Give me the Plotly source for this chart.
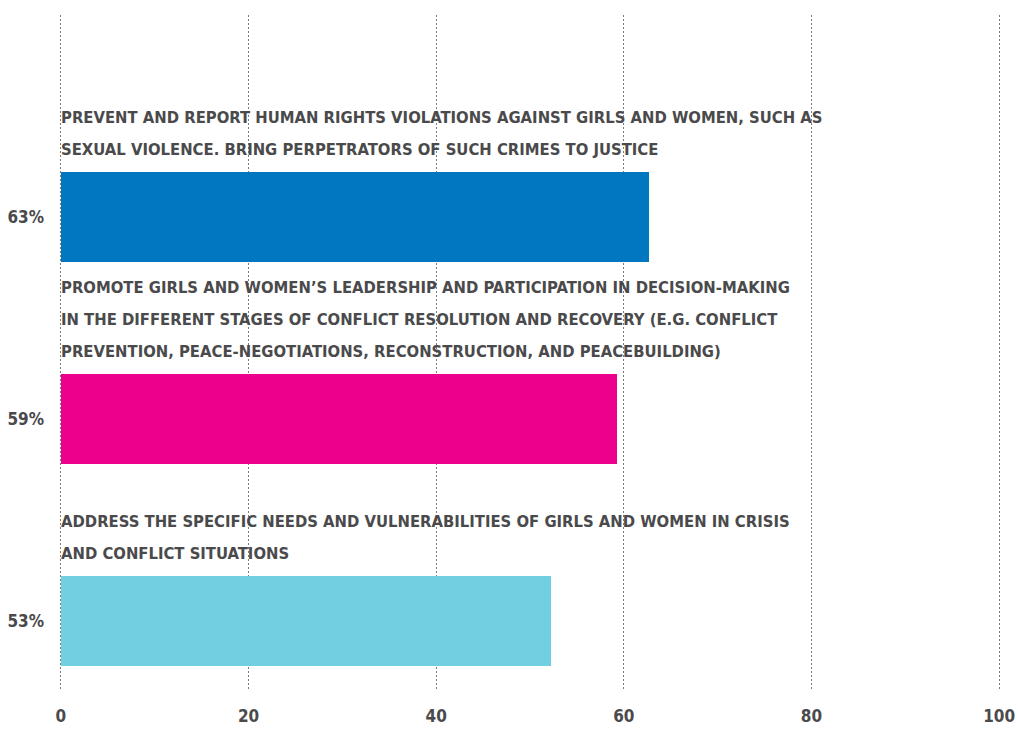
import plotly.graph_objects as go

label_lines = [
    ["PREVENT AND REPORT HUMAN RIGHTS VIOLATIONS AGAINST GIRLS AND WOMEN, SUCH AS",
     "SEXUAL VIOLENCE. BRING PERPETRATORS OF SUCH CRIMES TO JUSTICE"],
    ["PROMOTE GIRLS AND WOMEN’S LEADERSHIP AND PARTICIPATION IN DECISION-MAKING",
     "IN THE DIFFERENT STAGES OF CONFLICT RESOLUTION AND RECOVERY (E.G. CONFLICT",
     "PREVENTION, PEACE-NEGOTIATIONS, RECONSTRUCTION, AND PEACEBUILDING)"],
    ["ADDRESS THE SPECIFIC NEEDS AND VULNERABILITIES OF GIRLS AND WOMEN IN CRISIS",
     "AND CONFLICT SITUATIONS"],
]
values = [62.7, 59.3, 52.2]
pct_labels = ["63%", "59%", "53%"]
colors = ["#0077c0", "#ec008c", "#72cfe2"]
x_ticks = [0, 20, 40, 60, 80, 100]

FONT = "DejaVu Sans Condensed, Liberation Sans Narrow, Arial Narrow, sans-serif"
TXT = "#4a4a4c"
BAR_W = 0.445
LINE_H = 32
pos = list(range(len(values)))

fig = go.Figure()
fig.add_trace(go.Bar(
    x=values, y=pos, orientation="h", width=BAR_W,
    marker=dict(color=colors, line=dict(width=0)),
    hoverinfo="skip", showlegend=False,
))

for i, lines in enumerate(label_lines):
    n = len(lines)
    for k, line in enumerate(lines):
        fig.add_annotation(
            x=0, y=i - BAR_W / 2, xref="x", yref="y",
            text="<b>" + line + "</b>", showarrow=False,
            xanchor="left", yanchor="bottom", align="left",
            yshift=11 + LINE_H * (n - 1 - k), xshift=-2,
            font=dict(family=FONT, size=16.5, color=TXT),
        )

fig.update_layout(
    width=1018, height=731,
    margin=dict(l=59, r=17, t=15, b=41, autoexpand=False),
    plot_bgcolor="white", paper_bgcolor="white",
    font=dict(family=FONT, color=TXT),
    bargap=0,
)
fig.update_xaxes(
    range=[-0.2, 100.2], tickvals=x_ticks,
    ticktext=["<b>%d</b>" % v for v in x_ticks],
    showgrid=True, gridcolor="#7a7a7a", griddash="2px,2px", gridwidth=1,
    zeroline=False, showline=False, ticks="", automargin=False,
    tickfont=dict(family=FONT, size=17, color=TXT),
    ticklabelstandoff=14,
)
fig.update_yaxes(
    range=[2.34, -1.0], tickvals=pos,
    ticktext=["<b>" + p + "</b>" for p in pct_labels],
    showgrid=False, zeroline=False, showline=False, ticks="", automargin=False,
    tickfont=dict(family=FONT, size=17, color=TXT),
    ticklabelstandoff=14,
)

fig.write_html(
    "out.html",
    config={"displayModeBar": False},
    post_script="document.body.style.margin='0';document.body.style.overflow='hidden';",
)
